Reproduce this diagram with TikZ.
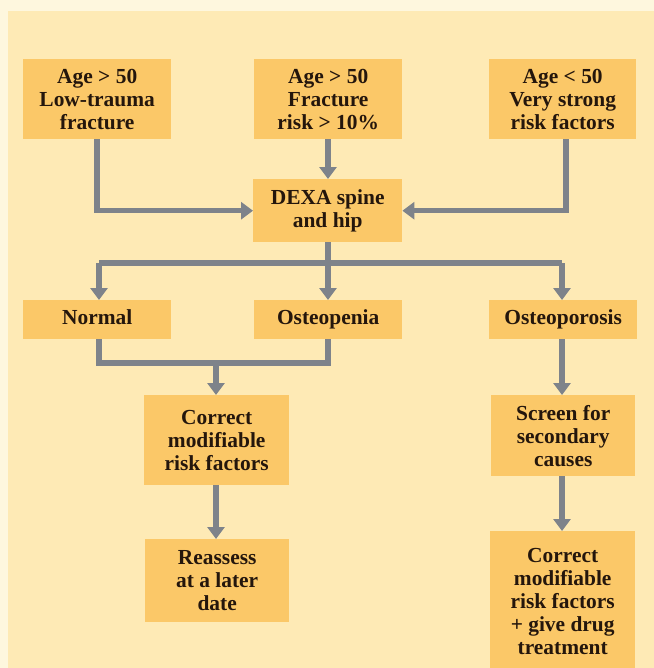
\documentclass[tikz,border=0pt]{standalone}
\usepackage{fontspec}
\setmainfont{Liberation Serif}
\usetikzlibrary{arrows.meta}
\definecolor{outerbg}{HTML}{FEF7DE}
\definecolor{panelbg}{HTML}{FEEAB5}
\definecolor{boxfill}{HTML}{FBC868}
\definecolor{arrowgray}{HTML}{7E838A}
\definecolor{txt}{HTML}{24160C}
\tikzset{
  fbox/.style={fill=boxfill, draw=none, inner sep=0pt, text=txt,
    font=\fontsize{21.5}{23}\selectfont\bfseries, align=center, anchor=north west},
  flow/.style={draw=arrowgray, line width=5.5bp,
    -{Triangle[length=12bp,width=17bp]}},
  flowline/.style={draw=arrowgray, line width=5.5bp}
}
\begin{document}
\begin{tikzpicture}[x=1bp,y=-1bp]
\useasboundingbox (0,0) rectangle (654,668);
\fill[outerbg] (0,0) rectangle (654,668);
\fill[panelbg] (8,11) rectangle (654,668);
% boxes: top-left corner, size
\node[fbox, minimum width=148bp, minimum height=80bp] (a1) at (23,59) {Age > 50\\Low-trauma\\fracture};
\node[fbox, minimum width=148bp, minimum height=80bp] (a2) at (254,59) {Age > 50\\Fracture\\risk > 10\%};
\node[fbox, minimum width=147bp, minimum height=80bp] (a3) at (489,59) {Age < 50\\Very strong\\risk factors};
\node[fbox, minimum width=149bp, minimum height=63bp] (dexa) at (253,179) {DEXA spine\\and hip};
\node[fbox, minimum width=148bp, minimum height=39bp] (normal) at (23,300) {Normal\vphantom{p}};
\node[fbox, minimum width=148bp, minimum height=39bp] (osteopenia) at (254,300) {Osteopenia};
\node[fbox, minimum width=148bp, minimum height=39bp] (osteoporosis) at (489,300) {Osteoporosis};
\node[fbox, minimum width=145bp, minimum height=90bp] (correct1) at (144,395) {Correct\\modifiable\\risk factors};
\node[fbox, minimum width=144bp, minimum height=81bp] (screen) at (491,395) {Screen for\\secondary\\causes};
\node[fbox, minimum width=144bp, minimum height=83bp] (reassess) at (145,539) {Reassess\\at a later\\date};
\node[fbox, minimum width=145bp, minimum height=140bp] (correct2) at (490,531) {Correct\\modifiable\\risk factors\\+ give drug\\treatment};
% coordinates
\coordinate (split) at (328,263);
\coordinate (join) at (216,363);
% connectors
\draw[flow] (a1.south -| 97,0) |- (dexa.west);
\draw[flow] (a2.south -| 328,0) -- (dexa.north -| 328,0);
\draw[flow] (a3.south -| 566,0) |- (dexa.east);
\draw[flowline] (dexa.south -| split) -- (split);
\draw[flowline] (99,263) -- (562,263);
\draw[flow] (split -| 99,0) -- (normal.north -| 99,0);
\draw[flow] (split) -- (osteopenia.north -| split);
\draw[flow] (split -| 562,0) -- (osteoporosis.north -| 562,0);
\draw[flowline] (normal.south -| 99,0) |- (join);
\draw[flowline] (osteopenia.south -| 328,0) |- (join);
\draw[flow] (join) -- (correct1.north -| join);
\draw[flow] (correct1.south -| join) -- (reassess.north -| join);
\draw[flow] (osteoporosis.south -| 562,0) -- (screen.north -| 562,0);
\draw[flow] (screen.south -| 562,0) -- (correct2.north -| 562,0);
\end{tikzpicture}
\end{document}
